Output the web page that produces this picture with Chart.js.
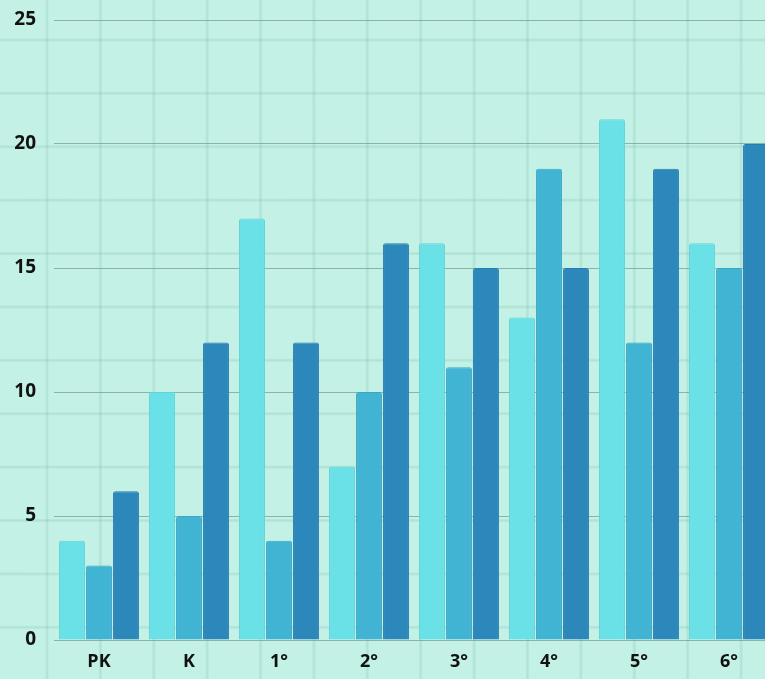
<!DOCTYPE html>
<html>
<head>
<meta charset="utf-8">
<script src="https://cdn.jsdelivr.net/npm/chart.js@4/dist/chart.umd.min.js"></script>
<style>
  html, body {
    margin: 0;
    padding: 0;
    width: 765px;
    height: 679px;
    overflow: hidden;
    background-color: #c3f1e5;
    background-image:
      linear-gradient(to right, rgba(120,180,165,0.1) 0, rgba(120,180,165,0.24) 1px, rgba(120,180,165,0.24) 2px, rgba(120,180,165,0.1) 3px, transparent 3px),
      linear-gradient(to bottom, rgba(120,180,165,0.1) 0, rgba(120,180,165,0.24) 1px, rgba(120,180,165,0.24) 2px, rgba(120,180,165,0.1) 3px, transparent 3px);
    background-size: 53.4px 53.4px;
    background-position: 45.5px 38.5px;
  }
  canvas { display: block; }
</style>
</head>
<body>
<canvas id="chart" width="774" height="679"></canvas>
<script>
const grades = ['PK', 'K', '1°', '2°', '3°', '4°', '5°', '6°'];
const seriesA = [4, 10, 17, 7, 16, 13, 21, 16];
const seriesB = [3, 5, 4, 10, 11, 19, 12, 15];
const seriesC = [6, 12, 12, 16, 15, 15, 19, 20];
const yTicks = [0, 5, 10, 15, 20, 25];

function renderChart(canvasId) {
    const ctx = document.getElementById(canvasId);
    const tickFont = { family: 'Open Sans', size: 19, weight: 'bold' };

    new Chart(ctx, {
        type: 'bar',
        data: {
            labels: grades,
            datasets: [
                { data: seriesA, backgroundColor: '#69e1e7', borderColor: '#5fd2da' },
                { data: seriesB, backgroundColor: '#41b3d3', borderColor: '#3aa5c6' },
                { data: seriesC, backgroundColor: '#2c87bb', borderColor: '#297cad' }
            ]
        },
        options: {
            responsive: false,
            animation: false,
            layout: { padding: { top: 20, left: 0, right: 0, bottom: 0 } },
            datasets: {
                bar: {
                    borderWidth: 1,
                    borderRadius: 2,
                    borderSkipped: 'bottom',
                    barPercentage: 0.96,
                    categoryPercentage: 0.9
                }
            },
            plugins: {
                legend: { display: false },
                tooltip: { enabled: false }
            },
            scales: {
                x: {
                    grid: { display: false, drawTicks: false },
                    border: { display: false },
                    ticks: { color: '#111', font: { family: 'Open Sans', size: 18, weight: 'bold' }, padding: 11 },
                    afterFit: function (scale) { scale.height = 39; }
                },
                y: {
                    min: 0,
                    max: 25,
                    afterBuildTicks: function (scale) {
                        scale.ticks = yTicks.map(v => ({ value: v }));
                    },
                    grid: { color: 'rgba(100,140,130,0.6)', lineWidth: 1, drawTicks: false },
                    border: { display: false },
                    ticks: { color: '#111', font: tickFont, padding: 18 },
                    afterFit: function (scale) {
                        scale.width = 54;
                        scale.paddingTop = 0;
                        scale.paddingBottom = 0;
                    }
                }
            }
        }
    });
}

renderChart('chart');
</script>
</body>
</html>
